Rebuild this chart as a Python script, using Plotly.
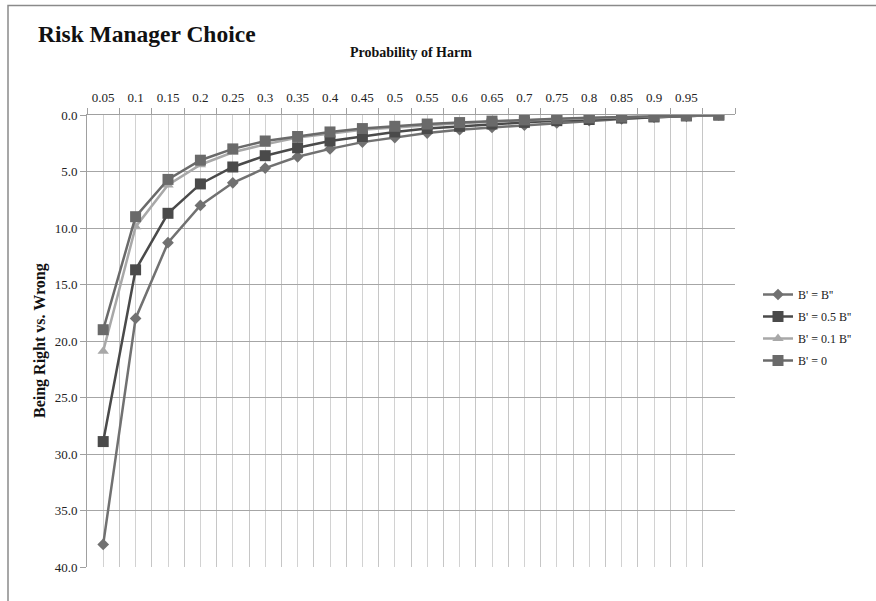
import plotly.graph_objects as go

# Data
prob = [0.05, 0.10, 0.15, 0.20, 0.25, 0.30, 0.35, 0.40, 0.45, 0.50,
        0.55, 0.60, 0.65, 0.70, 0.75, 0.80, 0.85, 0.90, 0.95, 1.00]
tick_labels = ["0.05", "0.1", "0.15", "0.2", "0.25", "0.3", "0.35", "0.4", "0.45", "0.5",
               "0.55", "0.6", "0.65", "0.7", "0.75", "0.8", "0.85", "0.9", "0.95"]

b_equal = [38.0, 18.0, 11.3, 8.0, 6.0, 4.7, 3.7, 3.0, 2.4, 2.0,
           1.6, 1.3, 1.1, 0.9, 0.7, 0.5, 0.35, 0.2, 0.1, 0.0]
b_half = [28.9, 13.7, 8.7, 6.1, 4.6, 3.6, 2.9, 2.3, 1.9, 1.5,
          1.2, 1.0, 0.8, 0.65, 0.5, 0.4, 0.27, 0.17, 0.08, 0.0]
b_tenth = [20.9, 9.9, 6.2, 4.4, 3.3, 2.6, 2.0, 1.65, 1.3, 1.1,
           0.9, 0.73, 0.59, 0.47, 0.37, 0.28, 0.19, 0.12, 0.06, 0.0]
b_zero = [19.0, 9.0, 5.7, 4.0, 3.0, 2.3, 1.9, 1.5, 1.2, 1.0,
          0.8, 0.67, 0.54, 0.43, 0.33, 0.25, 0.18, 0.11, 0.05, 0.0]

series_names = ["B' = B''", "B' = 0.5 B''", "B' = 0.1 B''", "B' = 0"]
series_values = [b_equal, b_half, b_tenth, b_zero]
series_colors = ["#717171", "#4a4a4a", "#a8a8a8", "#6a6a6a"]
series_symbols = ["diamond", "square", "triangle-up", "square"]
series_sizes = [9, 11, 10, 11]

FONT = "Liberation Serif"

# pixel layout of the plot area
W, H = 876, 601
plot_l, plot_r = 87, 735
plot_t, plot_b = 115, 567
plot_w, plot_h = plot_r - plot_l, plot_b - plot_t

def px_x(px):
    return (px - plot_l) / plot_w

def px_y(py):
    return 1 - (py - plot_t) / plot_h

fig = go.Figure()
for i, (name, vals, col, sym, sz) in enumerate(zip(series_names, series_values, series_colors,
                                                    series_symbols, series_sizes)):
    fig.add_trace(go.Scatter(
        x=prob, y=vals, name=name, mode="lines+markers",
        line=dict(color=col, width=2.5),
        marker=dict(symbol=sym, size=sz, color=col),
        legendgroup=f"g{i}",
    ))

fig.update_layout(
    width=W, height=H,
    margin=dict(l=plot_l, r=W - plot_r, t=plot_t, b=H - plot_b, autoexpand=False),
    paper_bgcolor="white", plot_bgcolor="white",
    font=dict(family=FONT, size=12, color="#222222"),
    showlegend=True,
    legend=dict(x=px_x(758), y=px_y(280), xanchor="left", yanchor="top",
                font=dict(family=FONT, size=12, color="#222222"),
                traceorder="grouped", tracegroupgap=3, itemwidth=30,
                bgcolor="rgba(0,0,0,0)"),
    xaxis=dict(
        type="linear", side="top", range=[0.025, 1.025],
        tickmode="array", tickvals=prob[:19], ticktext=tick_labels,
        ticks="", showgrid=True, gridcolor="#d2d2d2", gridwidth=1,
        tickfont=dict(family=FONT, size=13, color="#222222"),
        ticklabelstandoff=7,
        showline=True, linecolor="#a0a0a0", linewidth=1,
        zeroline=False,
        minor=dict(tickmode="linear", tick0=0.025, dtick=0.05, showgrid=True,
                   gridcolor="#c6c6c6", gridwidth=1, ticks="outside", ticklen=6,
                   tickcolor="#a0a0a0"),
    ),
    yaxis=dict(
        range=[40, 0], tickmode="linear", tick0=0, dtick=5, tickformat=".1f",
        showgrid=True, gridcolor="#a6a6a6", gridwidth=1,
        ticks="outside", ticklen=6, tickcolor="#a0a0a0",
        showline=True, linecolor="#a0a0a0", linewidth=1,
        zeroline=False,
        tickfont=dict(family=FONT, size=13, color="#222222"),
    ),
    annotations=[
        dict(text="<b>Risk Manager Choice</b>", x=px_x(36), y=px_y(34),
             xref="paper", yref="paper", xanchor="left", yanchor="middle",
             showarrow=False, font=dict(family=FONT, size=23.5, color="#111111")),
        dict(text="<b>Probability of Harm</b>", x=px_x(411), y=px_y(53),
             xref="paper", yref="paper", xanchor="center", yanchor="middle",
             showarrow=False, font=dict(family=FONT, size=14, color="#111111")),
        dict(text="<b>Being Right vs. Wrong</b>", x=px_x(40), y=px_y(341),
             xref="paper", yref="paper", xanchor="center", yanchor="middle",
             showarrow=False, textangle=-90, font=dict(family=FONT, size=16, color="#111111")),
    ],
)

# outer chart border (top and left edges visible)
fig.add_shape(type="path", xref="paper", yref="paper",
              path=f"M {px_x(8)},{px_y(700)} L {px_x(8)},{px_y(5.5)} L {px_x(1000)},{px_y(5.5)}",
              line=dict(color="#8a8a8a", width=1.5), layer="above")

fig.write_html("out.html", config={"displayModeBar": False},
               post_script="document.body.style.margin='0';")
